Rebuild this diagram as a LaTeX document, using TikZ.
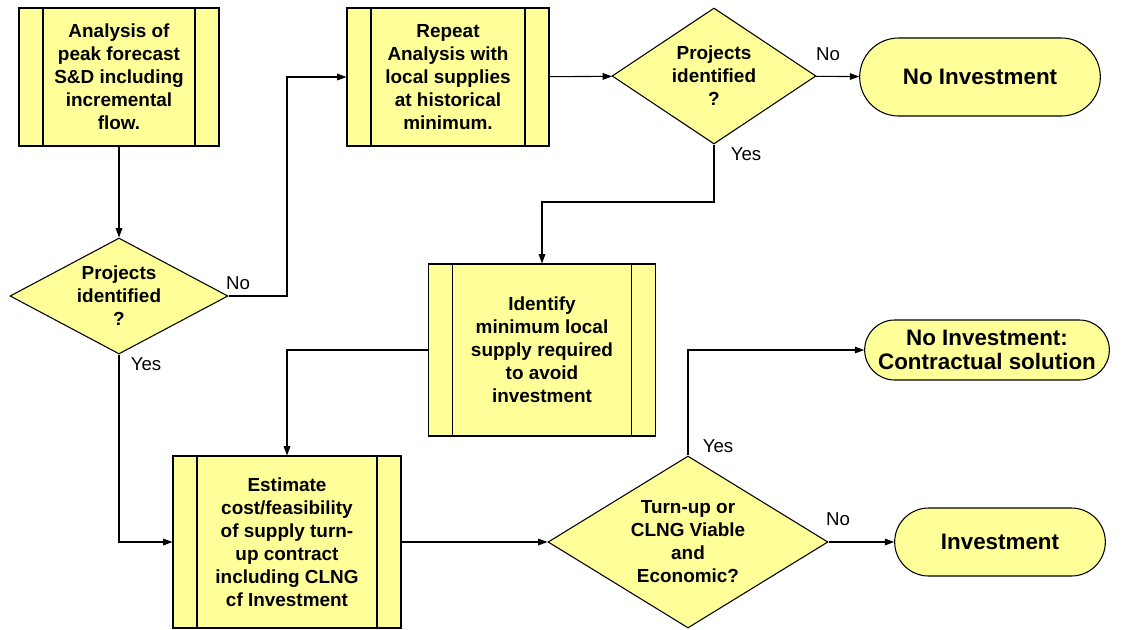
\documentclass[tikz,border=0pt]{standalone}
\usepackage{fontspec}
\setmainfont{Liberation Sans}
\usepackage{tikz}
\usetikzlibrary{arrows.meta,shapes.geometric,shapes.misc}
\definecolor{flow_yellow}{RGB}{255, 255, 153}
\tikzset{proc/.style={rectangle,fill=flow_yellow,draw=black,line width=0.8pt,
  inner sep=2pt,align=center,font=\bfseries\fontsize{14.2}{17.25}\selectfont,
  path picture={\draw[line width=0.8pt]
    ([xshift=#1]path picture bounding box.north west) -- ([xshift=#1]path picture bounding box.south west)
    ([xshift=-#1]path picture bounding box.north east) -- ([xshift=-#1]path picture bounding box.south east);}},
  proc/.default=18pt}
\tikzstyle{dec}=[diamond,fill=flow_yellow,draw=black,line width=0.8pt,
  inner sep=0pt,align=center,font=\bfseries\fontsize{14.2}{17.25}\selectfont]
\tikzstyle{term}=[rounded rectangle,fill=flow_yellow,draw=black,line width=0.8pt,
  inner sep=2pt,align=center,font=\bfseries\fontsize{16.8}{18}\selectfont]
\tikzstyle{lbl}=[inner sep=0pt,font=\fontsize{14}{16}\selectfont]
\tikzstyle{flow}=[line width=0.8pt,-{Triangle[length=7pt,width=5pt]}]
\tikzstyle{none}=[]

\begin{document}
\begin{tikzpicture}[x=0.75pt,y=-0.75pt]
            \useasboundingbox (0, 0) rectangle (1121, 629);
            \node [style=proc, minimum width=150pt, minimum height=103.5pt] (1) at (119, 77) {Analysis of\\peak forecast\\S\&D including\\incremental\\flow.};
            \node [style=proc, minimum width=151.5pt, minimum height=103.5pt] (2) at (448, 77) {Repeat\\Analysis with\\local supplies\\at historical\\minimum.};
            \node [style=dec, aspect=1.5, minimum width=153pt, minimum height=102pt] (3) at (714, 76) {Projects\\identified\\?};
            \node [style=term, minimum width=184.5pt, minimum height=58.5pt] (4) at (980, 77) {No Investment};
            \node [style=dec, aspect=1.88, minimum width=163.5pt, minimum height=87pt] (5) at (119, 296) {Projects\\identified\\?};
            \node [style=proc=21pt, minimum width=170.25pt, minimum height=129pt] (6) at (542, 350) {Identify\\minimum local\\supply required\\to avoid\\investment};
            \node [style=proc=21pt, minimum width=171pt, minimum height=129pt] (7) at (287, 542) {Estimate\\cost/feasibility\\of supply turn-\\up contract\\including CLNG\\cf Investment};
            \node [style=dec, aspect=1.63, minimum width=210pt, minimum height=129pt] (8) at (688, 542) {Turn-up or\\CLNG Viable\\and\\Economic?};
            \node [style=term, minimum width=187.5pt, minimum height=45pt] (9) at (987, 350) {No Investment:\\Contractual solution};
            \node [style=term, minimum width=162pt, minimum height=51pt] (10) at (1000, 542) {Investment};
            \coordinate (11) at (287, 77);
            \coordinate (12) at (542, 202);
            \node [style=lbl] (13) at (238, 283) {No};
            \node [style=lbl] (14) at (146, 364) {Yes};
            \node [style=lbl] (15) at (828, 54) {No};
            \node [style=lbl] (16) at (746, 154) {Yes};
            \node [style=lbl] (17) at (718, 446) {Yes};
            \node [style=lbl] (18) at (838, 519) {No};
            \draw [style=flow] (1) to (5);
            \draw [style=flow] (5.east) -| (11) -- (2.west);
            \draw [style=flow] (2) to (3);
            \draw [style=flow] (3) to (4);
            \draw [style=flow] (3.south) |- (12) -- (6.north);
            \draw [style=flow] (6.west) -| (7.north);
            \draw [style=flow] (5.south) |- (7.west);
            \draw [style=flow] (7) to (8);
            \draw [style=flow] (8.north) |- (9.west);
            \draw [style=flow] (8) to (10);
    \end{tikzpicture}
\end{document}
